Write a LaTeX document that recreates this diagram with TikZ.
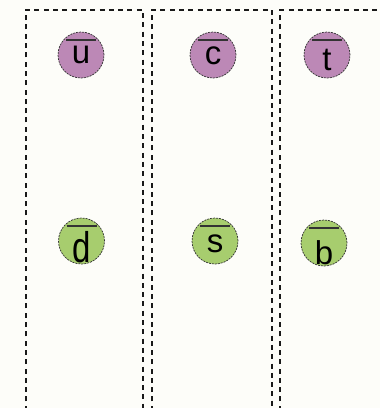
\documentclass[tikz,border=0pt]{standalone}
\usepackage{fontspec}
\setmainfont{Liberation Sans}
\begin{document}
\begin{tikzpicture}[x=1pt,y=-1pt,
  col/.style={draw=black!90, line width=1.2pt, dash pattern=on 5pt off 4.3pt},
  quark/.style={circle, draw=black!80, line width=0.7pt, dash pattern=on 2pt off 1pt,
    minimum size=46pt, inner sep=0pt, font=\fontsize{33}{33}\selectfont,
    path picture={\draw[line width=1.3pt, solid] ([xshift=-15pt,yshift=15pt]path picture bounding box.center) -- ++(30pt,0);}},
  up/.style={quark, fill=purpleq},
  down/.style={quark, fill=greenq}]
\definecolor{purpleq}{RGB}{188,136,182}
\definecolor{greenq}{RGB}{167,205,110}
\definecolor{bgc}{RGB}{253,253,249}
\fill[bgc] (0,0) rectangle (380,408);
\useasboundingbox (0,0) rectangle (380,408);
\draw[col] (26,420) -- (26,10) -- (143,10) -- (143,420);
\draw[col] (152,420) -- (152,10) -- (272,10) -- (272,420);
\draw[col] (280,420) -- (280,10) -- (392,10) -- (392,420);
\newcommand{\qlet}[2]{\raisebox{#1}[0pt][0pt]{\hbox{#2}}}
\node[up] (u) at (81,55) {\qlet{-8pt}{u}};
\node[up] (c) at (213,55) {\qlet{-9pt}{c}};
\node[up] (t) at (327,55) {\qlet{-15pt}{t}};
\node[down] (d) at (81.5,241) {\qlet{-21pt}{\scalebox{1}[1.3]{d}}};
\node[down] (s) at (215,241) {\qlet{-11pt}{s}};
\node[down] (b) at (324,243) {\qlet{-21pt}{b}};
\end{tikzpicture}
\end{document}
